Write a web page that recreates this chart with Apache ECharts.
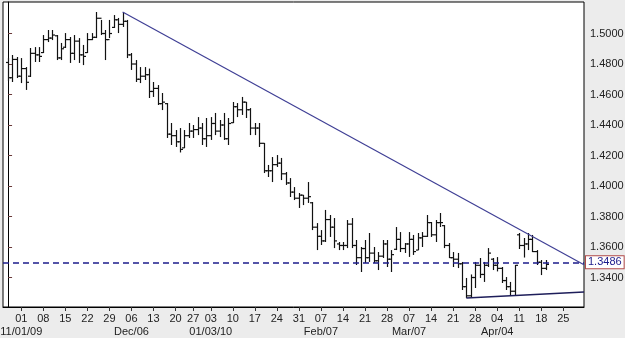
<!DOCTYPE html>
<html>
<head>
  <meta charset="UTF-8">
  <title>EUR/USD daily</title>
  <style>
    body { margin: 0; padding: 0; background: #ececec; }
    #chart { width: 625px; height: 338px; }
  </style>
</head>
<body>
  <div id="chart"></div>
  <script src="https://cdn.jsdelivr.net/npm/echarts@6/dist/echarts.min.js"></script>
  <script>
    // daily bars, one per trading day from 2009-10-28 (index 0) to 2010-04-20 (index 122)
    var opens = [1.4810,1.4710,1.4830,1.4720,1.4770,1.4720,1.4870,1.4860,1.4875,1.4960,
      1.4970,1.4985,1.4840,1.4910,1.4960,1.4870,1.4950,1.4860,1.4875,1.4960,
      1.4975,1.5100,1.5000,1.4960,1.5040,1.5090,1.5060,1.5080,1.4860,1.4800,
      1.4700,1.4720,1.4730,1.4620,1.4640,1.4540,1.4540,1.4340,1.4330,1.4290,
      1.4250,1.4330,1.4360,1.4370,1.4380,1.4310,1.4330,1.4410,1.4360,1.4400,
      1.4310,1.4415,1.4520,1.4500,1.4550,1.4500,1.4380,1.4380,1.4280,1.4100,
      1.4100,1.4140,1.4150,1.4080,1.4020,1.3960,1.3920,1.3940,1.3920,1.3890,
      1.3730,1.3670,1.3640,1.3780,1.3730,1.3620,1.3610,1.3610,1.3750,1.3610,
      1.3530,1.3590,1.3530,1.3560,1.3510,1.3540,1.3620,1.3520,1.3585,1.3650,
      1.3590,1.3620,1.3650,1.3580,1.3660,1.3670,1.3760,1.3680,1.3760,1.3740,
      1.3610,1.3530,1.3520,1.3490,1.3340,1.3280,1.3400,1.3480,1.3420,1.3480,
      1.3520,1.3480,1.3460,1.3380,1.3340,1.3310,1.3680,1.3610,1.3620,1.3650,
      1.3570,1.3500,1.3460];
    var highs = [1.4839,1.4859,1.4846,1.4839,1.4780,1.4905,1.4911,1.4911,1.4990,1.5023,
      1.5023,1.4990,1.4938,1.5003,1.4977,1.4990,1.4970,1.4925,1.5003,1.5003,
      1.5141,1.5089,1.5023,1.5089,1.5121,1.5102,1.5141,1.5089,1.4872,1.4826,
      1.4780,1.4780,1.4770,1.4682,1.4662,1.4610,1.4544,1.4413,1.4367,1.4380,
      1.4367,1.4413,1.4400,1.4452,1.4413,1.4446,1.4452,1.4479,1.4433,1.4479,
      1.4446,1.4551,1.4544,1.4584,1.4551,1.4511,1.4413,1.4413,1.4282,1.4138,
      1.4190,1.4203,1.4184,1.4092,1.4052,1.3993,1.3954,1.3941,1.4026,1.3895,
      1.3757,1.3711,1.3843,1.3810,1.3790,1.3633,1.3633,1.3777,1.3790,1.3646,
      1.3600,1.3646,1.3692,1.3600,1.3567,1.3646,1.3646,1.3580,1.3731,1.3698,
      1.3626,1.3698,1.3679,1.3692,1.3698,1.3810,1.3764,1.3777,1.3823,1.3744,
      1.3626,1.3567,1.3561,1.3502,1.3397,1.3420,1.3502,1.3528,1.3502,1.3593,
      1.3528,1.3534,1.3469,1.3403,1.3371,1.3482,1.3692,1.3659,1.3692,1.3679,
      1.3580,1.3515,1.3515];
    var lows = [1.4689,1.4682,1.4708,1.4675,1.4630,1.4715,1.4813,1.4813,1.4872,1.4944,
      1.4957,1.4826,1.4826,1.4905,1.4807,1.4826,1.4807,1.4793,1.4872,1.4957,
      1.4970,1.4990,1.4826,1.4970,1.5036,1.5003,1.5043,1.4839,1.4761,1.4682,
      1.4675,1.4695,1.4577,1.4584,1.4531,1.4498,1.4315,1.4269,1.4256,1.4220,
      1.4249,1.4315,1.4315,1.4334,1.4269,1.4256,1.4302,1.4334,1.4321,1.4302,
      1.4269,1.4413,1.4452,1.4466,1.4446,1.4334,1.4334,1.4256,1.4085,1.4059,
      1.4026,1.4125,1.4039,1.4007,1.3928,1.3908,1.3856,1.3875,1.3889,1.3711,
      1.3580,1.3613,1.3633,1.3666,1.3593,1.3580,1.3580,1.3593,1.3593,1.3482,
      1.3436,1.3495,1.3502,1.3495,1.3449,1.3528,1.3469,1.3436,1.3580,1.3567,
      1.3561,1.3535,1.3548,1.3580,1.3600,1.3666,1.3666,1.3633,1.3731,1.3593,
      1.3528,1.3469,1.3462,1.3318,1.3266,1.3272,1.3331,1.3397,1.3371,1.3469,
      1.3449,1.3440,1.3364,1.3318,1.3281,1.3279,1.3587,1.3531,1.3580,1.3567,
      1.3482,1.3416,1.3449];
    var closes = [1.4710,1.4830,1.4720,1.4770,1.4680,1.4870,1.4860,1.4850,1.4960,1.4970,
      1.4990,1.4840,1.4900,1.4960,1.4870,1.4950,1.4860,1.4850,1.4960,1.4975,
      1.5100,1.5000,1.4960,1.5000,1.5090,1.5060,1.5080,1.4860,1.4800,1.4700,
      1.4720,1.4730,1.4620,1.4640,1.4540,1.4550,1.4340,1.4330,1.4290,1.4240,
      1.4330,1.4360,1.4370,1.4380,1.4310,1.4330,1.4410,1.4360,1.4400,1.4310,
      1.4410,1.4520,1.4500,1.4550,1.4500,1.4380,1.4380,1.4280,1.4100,1.4100,
      1.4140,1.4150,1.4080,1.4020,1.3960,1.3920,1.3940,1.3920,1.3930,1.3730,
      1.3670,1.3640,1.3780,1.3730,1.3640,1.3610,1.3610,1.3750,1.3610,1.3530,
      1.3590,1.3530,1.3560,1.3510,1.3540,1.3620,1.3520,1.3550,1.3650,1.3590,
      1.3620,1.3650,1.3570,1.3660,1.3670,1.3760,1.3680,1.3760,1.3760,1.3610,
      1.3530,1.3520,1.3490,1.3340,1.3280,1.3400,1.3480,1.3420,1.3480,1.3560,
      1.3480,1.3460,1.3380,1.3340,1.3310,1.3480,1.3610,1.3620,1.3650,1.3570,
      1.3500,1.3460,1.3486];

    // week ticks: bar index of each Monday, labelled with the Sunday date
    var tickIdx = [3, 8, 13, 18, 23, 28, 33, 38, 42, 46, 51, 56, 61, 66, 71, 76, 81, 86, 91, 96, 101, 106, 111, 116, 121, 126];
    var tickDays = ['01','08','15','22','29','06','13','20','27','03','10','17','24','31','07','14','21','28','07','14','21','28','04','11','18','25'];
    // second row: month markers
    var monthIdx = [3, 28, 46, 71, 91, 111];
    var monthText = ['11/01/09', 'Dec/06', '01/03/10', 'Feb/07', 'Mar/07', 'Apr/04'];
    var yTicks = [1.34, 1.36, 1.38, 1.40, 1.42, 1.44, 1.46, 1.48, 1.50];

    var lastPrice = 1.3486;
    var trendLine = [[26, 1.5141], [130.7, 1.3484]];
    var supportLine = [[104, 1.3266], [130.7, 1.3305]];

    var bars = opens.map(function (o, i) {
      return [i, o, highs[i], lows[i], closes[i]];
    });

    function renderOHLC(params, api) {
      var x = api.value(0);
      var pO = api.coord([x, api.value(1)]);
      var pH = api.coord([x, api.value(2)]);
      var pL = api.coord([x, api.value(3)]);
      var pC = api.coord([x, api.value(4)]);
      var cx = Math.round(pH[0]) + 0.5;
      var st = { stroke: '#111', lineWidth: 1.2 };
      return {
        type: 'group',
        children: [
          { type: 'line', shape: { x1: cx, y1: pH[1], x2: cx, y2: pL[1] }, style: st },
          { type: 'line', shape: { x1: cx - 2.5, y1: pO[1], x2: cx, y2: pO[1] }, style: st },
          { type: 'line', shape: { x1: cx, y1: pC[1], x2: cx + 2.5, y2: pC[1] }, style: st }
        ]
      };
    }

    var chart = echarts.init(document.getElementById('chart'));

    var font = 'Liberation Sans, Arial, sans-serif';
    var xMin = -1.15, xMax = 130.7;

    var option = {
      animation: false,
      backgroundColor: '#ececec',
      grid: {
        left: 3, right: 41, top: 2, bottom: 31,
        show: true,
        backgroundColor: '#fff',
        borderColor: '#000',
        borderWidth: 1,
        outerBoundsMode: 'none'
      },
      xAxis: [{
        type: 'value',
        min: xMin,
        max: xMax,
        splitLine: { show: false },
        axisLine: { show: true, lineStyle: { color: '#000' } },
        axisTick: { show: true, customValues: tickIdx, length: 4, lineStyle: { color: '#333' } },
        axisLabel: {
          customValues: tickIdx,
          interval: 0,
          showMinLabel: true,
          showMaxLabel: true,
          hideOverlap: false,
          margin: 6,
          fontSize: 11,
          fontFamily: font,
          color: '#222',
          formatter: function (v) {
            var k = tickIdx.indexOf(v);
            return k < 0 ? '' : tickDays[k];
          }
        }
      }, {
        type: 'value',
        position: 'bottom',
        offset: 13,
        min: xMin,
        max: xMax,
        splitLine: { show: false },
        axisLine: { show: false },
        axisTick: { show: false },
        axisLabel: {
          customValues: monthIdx,
          interval: 0,
          showMinLabel: true,
          showMaxLabel: true,
          hideOverlap: false,
          margin: 6,
          fontSize: 11,
          fontFamily: font,
          color: '#222',
          formatter: function (v) {
            var k = monthIdx.indexOf(v);
            return k < 0 ? '' : monthText[k];
          }
        }
      }],
      yAxis: {
        type: 'value',
        position: 'right',
        min: 1.32066,
        max: 1.52066,
        splitLine: { show: false },
        axisLine: { show: true, lineStyle: { color: '#000' } },
        axisTick: { show: true, customValues: yTicks, length: 4, lineStyle: { color: '#6a3a3a' } },
        axisLabel: {
          customValues: yTicks,
          margin: 6,
          fontSize: 11,
          fontFamily: font,
          color: '#222',
          formatter: function (v) { return v.toFixed(4); }
        }
      },
      series: [
        {
          type: 'custom',
          renderItem: renderOHLC,
          data: bars,
          encode: { x: 0, y: [1, 2, 3, 4] },
          silent: true
        },
        {
          type: 'line',
          data: trendLine,
          symbol: 'none',
          silent: true,
          lineStyle: { color: '#3f3f95', width: 1.2 },
          markLine: {
            silent: true,
            symbol: 'none',
            lineStyle: { color: '#1c1c8c', width: 1.5, type: [6, 4] },
            label: {
              show: true,
              position: 'end',
              distance: 2,
              formatter: lastPrice.toFixed(4),
              color: '#1c1c8c',
              fontSize: 11,
              fontFamily: font,
              backgroundColor: '#fff',
              borderColor: '#b04a4a',
              borderWidth: 1,
              padding: [1, 2, 0, 2]
            },
            data: [{ yAxis: lastPrice }]
          }
        },
        {
          type: 'line',
          data: supportLine,
          symbol: 'none',
          silent: true,
          lineStyle: { color: '#1e1e5a', width: 1.5 }
        }
      ]
    };

    chart.setOption(option);
  </script>
</body>
</html>
